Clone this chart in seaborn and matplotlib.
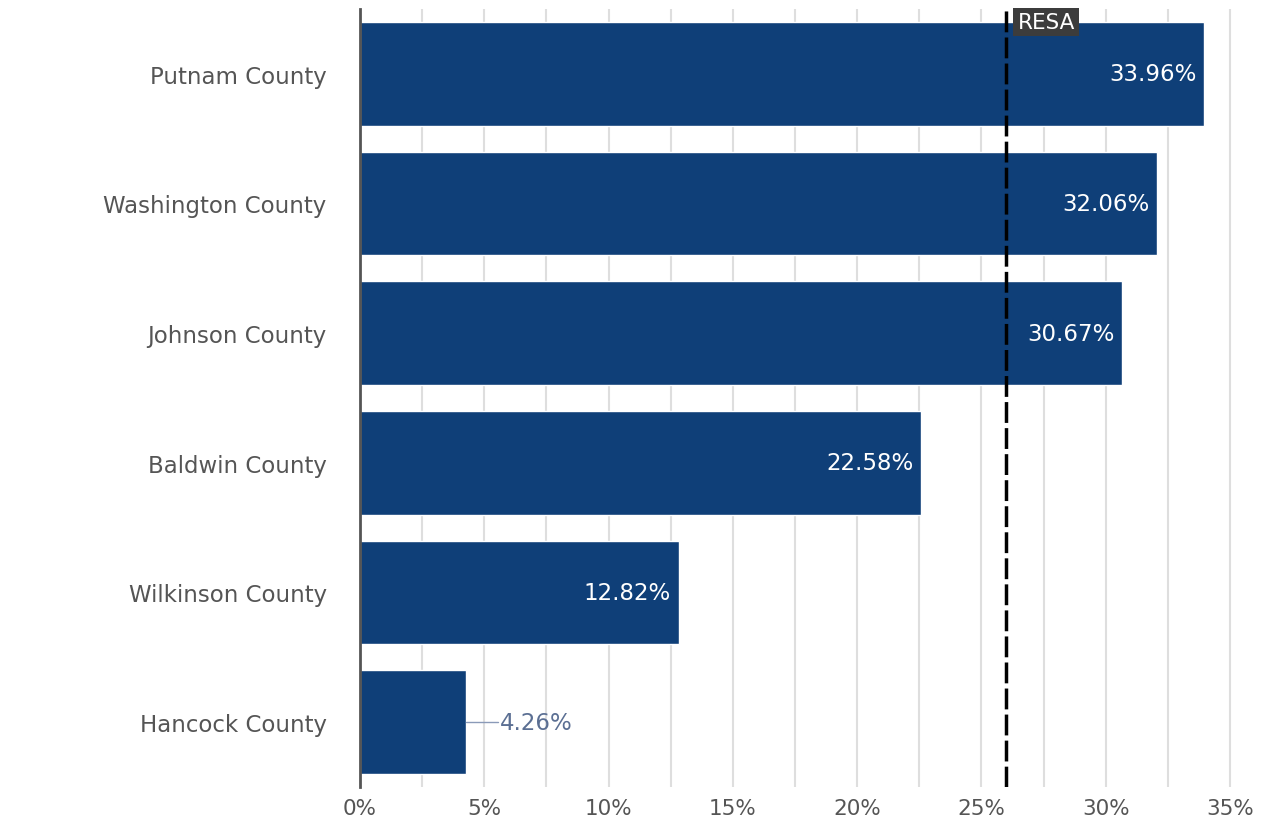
import pandas as pd
import matplotlib.pyplot as plt
import seaborn as sns

# Datos
condados = ['Putnam County', 'Washington County', 'Johnson County',
            'Baldwin County', 'Wilkinson County', 'Hancock County']
porcentajes = [33.96, 32.06, 30.67, 22.58, 12.82, 4.26]
resa = 26.0
ticks = [0, 5, 10, 15, 20, 25, 30, 35]

df = pd.DataFrame({'condado': condados, 'pct': porcentajes})

sns.set_style('white')
plt.rcParams['font.family'] = ['DejaVu Sans']

fig = plt.figure(figsize=(12.88, 8.2), dpi=100)
ax = fig.add_axes([0.2795, 0.039, 0.687, 0.949])

# Líneas de cuadrícula cada 2.5%
for g in [i * 2.5 for i in range(1, 15)]:
    ax.axvline(g, color='#dedede', lw=1.5, zorder=0)

sns.barplot(data=df, x='pct', y='condado', color='#0f3f78', width=0.8,
            saturation=1, ax=ax, zorder=2)
ax.set_ylim(5.5, -0.5)

# Etiquetas de valores
for p, v in zip(ax.patches, porcentajes):
    yc = p.get_y() + p.get_height() / 2
    if v > 8:
        ax.text(v - 0.3, yc, f'{v:.2f}%', ha='right', va='center',
                color='white', fontsize=16.5, zorder=6)
    else:
        ax.plot([v, v + 1.3], [yc, yc], color='#8a9ab8', lw=1, zorder=3)
        ax.text(v + 1.35, yc, f'{v:.2f}%', ha='left', va='center',
                color='#5b6f93', fontsize=16.5, zorder=4)

# Línea RESA
ax.axvline(resa, color='black', lw=2.5, ls=(0, (6, 1.5)), zorder=5)
ax.text(resa + 0.45, 0.996, 'RESA', transform=ax.get_xaxis_transform(),
        ha='left', va='top', color='white', fontsize=15.5, zorder=6,
        bbox=dict(boxstyle='square,pad=0.2', fc='#3c3c3c', ec='none'))

ax.set_xlim(0, 35.6)
ax.set_xticks(ticks)
ax.set_xticklabels([f'{t}%' for t in ticks])
ax.tick_params(axis='x', labelsize=15.5, labelcolor='#555555', length=0, pad=8)
ax.tick_params(axis='y', labelsize=16.5, labelcolor='#555555', length=0, pad=24)
ax.set_xlabel('')
ax.set_ylabel('')
for s in ['top', 'right', 'bottom']:
    ax.spines[s].set_visible(False)
ax.spines['left'].set_color('#555555')
ax.spines['left'].set_linewidth(2)

plt.savefig('out.png', dpi=100)
